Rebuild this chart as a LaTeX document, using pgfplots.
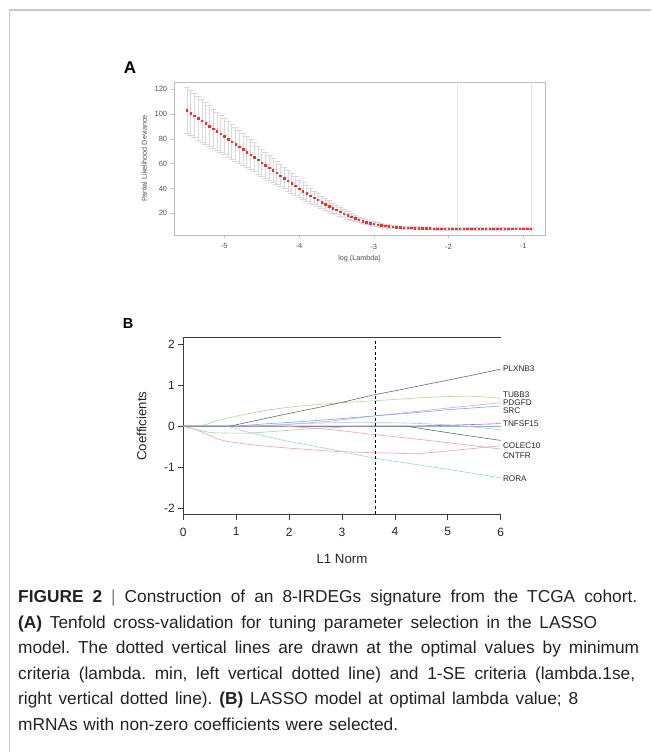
\documentclass[border=0pt]{standalone}
\usepackage{pgfplots}
\pgfplotsset{compat=1.18}
\usepackage{pgfplotstable}
\usepackage{fontspec}
\setmainfont{Liberation Sans}
\definecolor{frameA}{HTML}{BDBDBD}
\definecolor{labelA}{HTML}{505050}
\definecolor{errgray}{HTML}{D9D9D9}
\definecolor{vgray}{HTML}{E6E6E6}
\definecolor{dotred}{HTML}{FF2A2A}
\definecolor{axisB}{HTML}{3C3C3C}
\definecolor{outer}{HTML}{C8C8C8}
\definecolor{cgray}{HTML}{6A6A6A}
\definecolor{cgreen}{HTML}{A6DA98}
\definecolor{cpink}{HTML}{F0A0B2}
\definecolor{cblue}{HTML}{6AAEEA}
\definecolor{clblue}{HTML}{9CCEF2}
\definecolor{ccyan}{HTML}{8FDAE4}
\definecolor{cmag}{HTML}{C65ABF}
\definecolor{captext}{HTML}{222222}

\pgfplotstableread{
x y e
-5.50 103.0 18.7
-5.45 100.9 18.3
-5.40 98.8 17.9
-5.35 96.7 17.5
-5.30 94.6 17.1
-5.25 92.5 16.7
-5.20 90.4 16.3
-5.15 88.3 15.9
-5.10 86.2 15.5
-5.05 84.1 15.2
-5.00 82.0 14.8
-4.95 79.9 14.4
-4.90 77.8 14.0
-4.85 75.7 13.6
-4.80 73.6 13.2
-4.75 71.5 12.8
-4.70 69.4 12.4
-4.65 67.3 12.1
-4.60 65.2 11.7
-4.55 63.1 11.3
-4.50 61.0 10.9
-4.45 58.9 10.5
-4.40 56.8 10.1
-4.35 54.7 9.7
-4.30 52.6 9.3
-4.25 50.5 8.9
-4.20 48.4 8.6
-4.15 46.3 8.2
-4.10 44.2 7.8
-4.05 42.1 7.4
-4.00 40.0 7.0
-3.95 38.0 6.6
-3.90 36.1 6.3
-3.85 34.3 6.0
-3.80 32.5 5.6
-3.75 30.8 5.3
-3.70 29.1 5.0
-3.65 27.4 4.7
-3.60 25.8 4.4
-3.55 24.2 4.1
-3.50 22.7 3.8
-3.45 21.2 3.5
-3.40 19.8 3.3
-3.35 18.4 3.0
-3.30 17.1 2.8
-3.25 15.9 2.5
-3.20 14.8 2.3
-3.15 13.8 2.2
-3.10 12.9 2.0
-3.05 12.1 1.8
-3.00 11.6 1.7
-2.95 11.0 1.6
-2.90 10.4 1.5
-2.85 9.9 1.4
-2.80 9.5 1.4
-2.75 9.2 1.3
-2.70 8.9 1.25
-2.65 8.7 1.2
-2.60 8.5 1.2
-2.55 8.3 1.15
-2.50 8.2 1.1
-2.45 8.1 1.1
-2.40 8.0 1.08
-2.35 7.9 1.06
-2.30 7.85 1.05
-2.25 7.8 1.04
-2.20 7.75 1.03
-2.15 7.7 1.02
-2.10 7.65 1.02
-2.05 7.6 1.01
-2.00 7.6 1.0
-1.95 7.58 1.0
-1.90 7.55 1.0
-1.85 7.55 1.0
-1.80 7.56 1.0
-1.75 7.57 1.0
-1.70 7.58 1.0
-1.65 7.59 1.0
-1.60 7.60 1.0
-1.55 7.61 1.0
-1.50 7.62 1.0
-1.45 7.63 1.0
-1.40 7.64 1.0
-1.35 7.65 1.0
-1.30 7.66 1.0
-1.25 7.67 1.0
-1.20 7.68 1.0
-1.15 7.69 1.0
-1.10 7.70 1.0
-1.05 7.71 1.0
-1.00 7.72 1.0
-0.95 7.73 1.0
-0.90 7.74 1.0
}\devdata

\begin{document}
\frenchspacing
\begin{tikzpicture}
\path[use as bounding box] (0pt,0pt) rectangle (651pt,752pt);
\draw[outer, line width=1.5pt] (9.5pt,0pt) -- (9.5pt,742pt) -- (651pt,742pt);

% Panel labels
\node[font=\bfseries\fontsize{17}{17}\selectfont] at (130pt,684.7pt) {A};
\node[font=\bfseries\fontsize{14.5}{15}\selectfont] at (128pt,428.7pt) {B};

% ---------------- Panel A ----------------
\begin{axis}[
  at={(174pt,517pt)}, anchor=south west, scale only axis,
  width=371pt, height=153pt,
  xmin=-5.673, xmax=-0.71, ymin=2.5, ymax=125.9,
  axis line style={draw=frameA, line width=0.8pt},
  tick align=outside, xtick pos=left, ytick pos=left,
  major tick length=3.3pt,
  tick style={draw=frameA, line width=0.6pt},
  xtick={-5,-4,-3,-2,-1}, xticklabels={-5,-4,-3,-2,-1},
  ytick={20,40,60,80,100,120}, yticklabels={20,40,60,80,100,120},
  tick label style={font=\fontsize{7.5}{8}\selectfont, text=labelA},
  xticklabel style={yshift=-2pt},
  xlabel={log (Lambda)}, ylabel={Partial Likelihood Deviance},
  label style={font=\fontsize{7.2}{8}\selectfont, text=labelA},
  xlabel style={at={(axis description cs:0.5,-0.153)}, anchor=center},
  ylabel style={at={(axis description cs:-0.08,0.5)}, anchor=center},
  clip=false,
]
\addplot[vgray, line width=1.3pt] coordinates {(-1.883,2.5) (-1.883,125.9)};
\addplot[vgray, line width=1.3pt] coordinates {(-0.888,2.5) (-0.888,125.9)};
\addplot[errgray, draw=none, mark=none,
  error bars/.cd, y dir=both, y explicit, error mark=|,
  error bar style={draw=errgray, line width=0.6pt},
  error mark options={draw=errgray, mark size=3.2pt, line width=0.6pt}]
  table[x=x, y=y, y error=e] {\devdata};
\addplot[dotred, only marks, mark=square*, mark size=0.75pt,
  mark options={draw=none, fill=dotred}] table[x=x, y=y] {\devdata};
\end{axis}

% ---------------- Panel B ----------------
\begin{axis}[
  at={(183.3pt,237.3pt)}, anchor=south west, scale only axis,
  width=317.4pt, height=177.2pt,
  xmin=0, xmax=6, ymin=-2.16, ymax=2.16,
  axis x line*=bottom, axis y line*=left,
  axis line style={draw=axisB, line width=0.9pt, -},
  tick align=outside, major tick length=5pt,
  tick style={draw=axisB, line width=0.8pt},
  xtick={0,1,2,3,4,5,6}, xticklabels={0,1,2,3,4,5,6},
  ytick={-2,-1,0,1,2}, yticklabels={-2,-1,0,1,2},
  tick label style={font=\fontsize{12}{13}\selectfont, text=black!85},
  xticklabel style={yshift=-4.5pt},
  xlabel={L1 Norm}, ylabel={Coefficients},
  label style={font=\fontsize{13.3}{14}\selectfont, text=black!85},
  xlabel style={at={(axis description cs:0.5,0)}, anchor=center, yshift=-44.3pt},
  ylabel style={at={(axis description cs:-0.131,0.5)}, anchor=center},
  clip=false,
]
\draw[axisB, line width=0.9pt] (rel axis cs:0,1) -- (rel axis cs:1,1);
% zero-coefficient paths
\addplot[cgreen, line width=0.6pt] coordinates {(0,0) (6,0)};
\addplot[cblue, line width=0.6pt] coordinates {(0,0) (6,0)};
% TUBB3
\addplot[cgreen, line width=0.6pt, smooth] coordinates {(0,0) (0.33,0) (0.6,0.12) (1,0.24) (1.5,0.37) (2,0.46) (2.5,0.52) (3,0.57) (3.63,0.62) (4,0.65) (4.5,0.69) (5,0.72) (5.4,0.73) (5.7,0.71) (6,0.68)};
% green negative path
\addplot[cgreen, line width=0.6pt, smooth] coordinates {(0,0) (0.3,-0.1) (0.56,-0.16) (1.2,-0.17) (1.83,-0.12) (2.46,-0.06) (2.96,-0.03) (3.3,0) (6,0)};
% PDGFD
\addplot[cpink, line width=0.6pt] coordinates {(0,0) (1.5,0) (2,0.04) (2.77,0.12) (3.63,0.25) (4.5,0.37) (5,0.44) (6,0.57)};
% SRC
\addplot[cblue, line width=0.6pt] coordinates {(0,0) (1.0,0) (1.5,0.05) (2,0.09) (2.77,0.16) (3.63,0.25) (4.5,0.34) (5,0.40) (6,0.49)};
% other light blue
\addplot[clblue, line width=0.6pt, smooth] coordinates {(0,0) (1.3,0) (2,0.05) (2.8,0.08) (4,0.08) (4.7,0.05) (5.3,0.0) (6,-0.09)};
% TNFSF15
\addplot[cmag, line width=0.6pt] coordinates {(0,0) (4.4,0) (5,0.02) (6,0.06)};
% dark gray negative
\addplot[cgray, line width=0.6pt] coordinates {(0,0) (4.2,0) (5,-0.16) (6,-0.35)};
% pink linear negative
\addplot[cpink, line width=0.6pt] coordinates {(0,0) (1.9,0) (2.77,-0.08) (3.63,-0.21) (4.5,-0.33) (5.3,-0.45) (6,-0.56)};
% pink U-shaped
\addplot[cpink, line width=0.6pt, smooth] coordinates {(0,0) (0.31,-0.12) (0.69,-0.33) (1.2,-0.44) (1.83,-0.52) (2.46,-0.58) (2.96,-0.62) (3.62,-0.65) (4.0,-0.66) (4.41,-0.67) (4.98,-0.61) (5.6,-0.53) (6,-0.48)};
% RORA
\addplot[ccyan, line width=0.6pt, smooth] coordinates {(0,0) (0.78,0) (1.2,-0.14) (1.83,-0.33) (2.3,-0.45) (2.77,-0.56) (2.96,-0.61) (3.62,-0.78) (4.98,-1.05) (6,-1.26)};
% PLXNB3
\addplot[cgray, line width=0.6pt] coordinates {(0,0) (0.88,0) (1.5,0.17) (2,0.31) (2.5,0.44) (3,0.58) (3.63,0.77) (4,0.86) (4.5,0.99) (5,1.12) (5.5,1.25) (6,1.39)};
% lambda line
\addplot[black, line width=0.9pt, dash pattern=on 3pt off 2.5pt] coordinates {(3.637,2.08) (3.637,-2.16)};
% gene labels
\begin{scope}[every node/.style={anchor=west, font=\fontsize{8.2}{9}\selectfont, text=black!85, inner sep=0pt}]
\node at (axis cs:6.04,1.41) {PLXNB3};
\node at (axis cs:6.04,0.76) {TUBB3};
\node at (axis cs:6.04,0.56) {PDGFD};
\node at (axis cs:6.04,0.365) {SRC};
\node at (axis cs:6.04,0.056) {TNFSF15};
\node at (axis cs:6.04,-0.475) {COLEC10};
\node at (axis cs:6.04,-0.72) {CNTFR};
\node at (axis cs:6.04,-1.28) {RORA};
\end{scope}
\end{axis}

% ---------------- Caption ----------------
\begin{scope}[every node/.style={anchor=base west, inner sep=0pt, font=\fontsize{17.3}{20}\selectfont, text=captext}]
\node at (18pt,149pt) {\makebox[619pt][s]{\textbf{FIGURE 2} {\color{black!50}|} Construction of an 8-IRDEGs signature from the TCGA cohort.}};
\node at (18pt,123.5pt) {\makebox[579pt][s]{\textbf{(A)} Tenfold cross-validation for tuning parameter selection in the LASSO}};
\node at (18pt,98pt) {\makebox[621pt][s]{model. The dotted vertical lines are drawn at the optimal values by minimum}};
\node at (18pt,72.5pt) {\makebox[617pt][s]{criteria (lambda. min, left vertical dotted line) and 1-SE criteria (lambda.1se,}};
\node at (18pt,47pt) {\makebox[560pt][s]{right vertical dotted line). \textbf{(B)} LASSO model at optimal lambda value; 8}};
\node at (18pt,21.5pt) {\makebox[380pt][s]{mRNAs with non-zero coefficients were selected.}};
\end{scope}
\end{tikzpicture}
\end{document}
